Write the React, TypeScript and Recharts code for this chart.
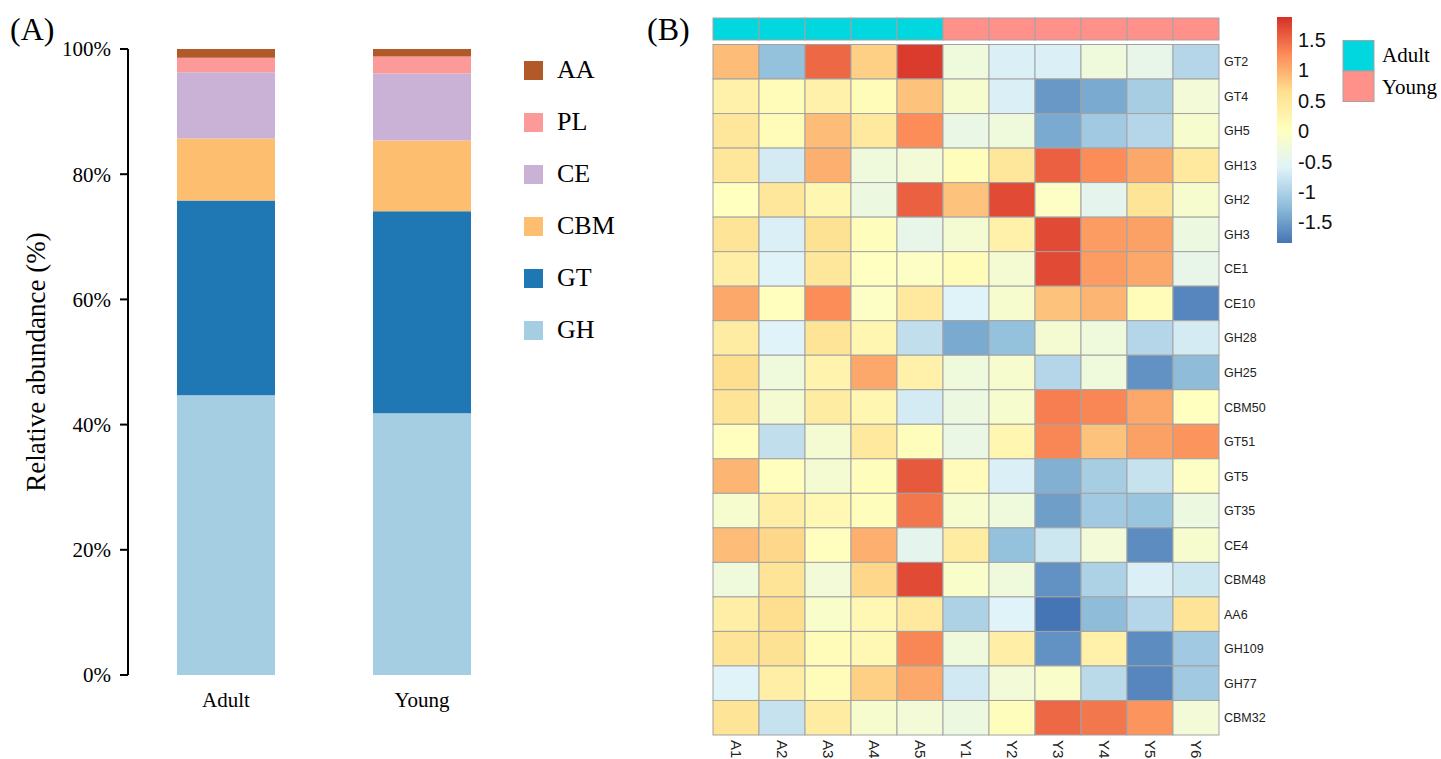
import React from 'react';
import { BarChart, Bar, XAxis, YAxis, Legend, ScatterChart, Scatter } from 'recharts';

// ---- panel A: relative abundance of CAZy classes ----
const groups = ['Adult', 'Young'];
const familyNames = ['GH', 'GT', 'CBM', 'CE', 'PL', 'AA'];
const familyColors = ['#A6CEE3', '#1F78B4', '#FDBF6F', '#CAB2D6', '#FB9A99', '#B15928'];
const ghShare = [44.7, 41.8];
const gtShare = [31.1, 32.3];
const cbmShare = [9.9, 11.3];
const ceShare = [10.6, 10.7];
const plShare = [2.3, 2.7];
const aaShare = [1.4, 1.2];
const percentTicks = [0, 20, 40, 60, 80, 100];

// ---- panel B: row-scaled heatmap ----
const sampleNames = ['A1', 'A2', 'A3', 'A4', 'A5', 'Y1', 'Y2', 'Y3', 'Y4', 'Y5', 'Y6'];
const sampleGroups = ['Adult', 'Adult', 'Adult', 'Adult', 'Adult', 'Young', 'Young', 'Young', 'Young', 'Young', 'Young'];
const geneFamilies = [
  'GT2', 'GT4', 'GH5', 'GH13', 'GH2', 'GH3', 'CE1', 'CE10', 'GH28', 'GH25',
  'CBM50', 'GT51', 'GT5', 'GT35', 'CE4', 'CBM48', 'AA6', 'GH109', 'GH77', 'CBM32',
];
const zScores = [
  [0.9, -1.2, 1.5, 0.75, 1.8, -0.3, -0.65, -0.65, -0.3, -0.45, -0.95],
  [0.3, 0.1, 0.3, 0.1, 0.85, -0.15, -0.65, -1.55, -1.4, -1.05, -0.25],
  [0.5, 0.1, 0.9, 0.45, 1.25, -0.4, -0.3, -1.4, -1.1, -0.95, -0.15],
  [0.5, -0.7, 1.0, -0.3, -0.25, 0.05, 0.5, 1.55, 1.25, 1.05, 0.45],
  [0.02, 0.5, 0.2, -0.35, 1.55, 0.85, 1.7, -0.05, -0.5, 0.55, -0.15],
  [0.55, -0.65, 0.6, 0.05, -0.45, -0.2, 0.3, 1.7, 1.15, 1.1, -0.35],
  [0.35, -0.6, 0.5, 0.0, -0.05, 0.08, -0.2, 1.7, 1.15, 1.05, -0.45],
  [1.05, 0.03, 1.25, -0.05, 0.45, -0.6, -0.15, 0.85, 0.95, 0.1, -1.7],
  [0.4, -0.6, 0.55, 0.2, -0.85, -1.4, -1.2, -0.2, -0.3, -0.95, -0.7],
  [0.65, -0.3, 0.25, 1.05, 0.3, -0.3, -0.15, -0.95, -0.3, -1.6, -1.25],
  [0.55, -0.2, 0.4, 0.2, -0.7, -0.35, -0.15, 1.35, 1.3, 1.05, 0.02],
  [0.03, -0.85, -0.2, 0.45, 0.05, -0.4, 0.2, 1.3, 0.85, 1.1, 1.2],
  [0.95, 0.03, -0.2, 0.05, 1.6, 0.07, -0.65, -1.35, -1.05, -0.8, -0.05],
  [-0.15, 0.35, 0.15, 0.05, 1.4, -0.15, -0.3, -1.5, -1.1, -1.15, -0.35],
  [0.9, 0.7, 0.03, 1.0, -0.5, 0.4, -1.2, -0.75, -0.25, -1.65, -0.15],
  [-0.3, 0.55, -0.25, 0.7, 1.7, -0.1, -0.3, -1.6, -1.0, -0.65, -0.75],
  [0.35, 0.65, -0.1, 0.15, 0.45, -1.0, -0.6, -1.85, -1.25, -0.95, 0.55],
  [0.55, 0.6, 0.1, 0.15, 1.3, -0.3, 0.35, -1.6, 0.3, -1.65, -1.1],
  [-0.6, 0.35, 0.1, 0.75, 1.05, -0.72, -0.25, -0.1, -0.9, -1.7, -1.1],
  [0.55, -0.8, 0.4, -0.15, -0.25, -0.35, 0.05, 1.5, 1.4, 1.2, -0.25],
];
const scaleTicks = [1.5, 1, 0.5, 0, -0.5, -1, -1.5];
const groupNames = ['Adult', 'Young'];
const groupColors = ['#00D7DF', '#FF918A'];

const SCALE_MIN = -1.84;
const SCALE_MAX = 1.87;
const PALETTE = ['#4575B4', '#91BFDB', '#E0F3F8', '#FFFFBF', '#FEE090', '#FC8D59', '#D73027'];

const SERIF = '"Liberation Serif", "Times New Roman", serif';
const SANS = '"Liberation Sans", Arial, sans-serif';

// heatmap geometry
const HM_LEFT = 73; // inside the panel B svg
const HM_TOP = 44.5;
const HM_W = 506;
const HM_H = 690.5;
const CELL_W = HM_W / sampleNames.length;
const CELL_H = HM_H / geneFamilies.length;
const ANN_TOP = 18;
const ANN_H = 22;

function hexToRgb(h: string) {
  const n = parseInt(h.slice(1), 16);
  return [(n >> 16) & 255, (n >> 8) & 255, n & 255];
}

function zColor(v: number) {
  const t = Math.min(1, Math.max(0, (v - SCALE_MIN) / (SCALE_MAX - SCALE_MIN)));
  const pos = t * (PALETTE.length - 1);
  const i = Math.min(PALETTE.length - 2, Math.floor(pos));
  const f = pos - i;
  const a = hexToRgb(PALETTE[i]);
  const b = hexToRgb(PALETTE[i + 1]);
  const c = a.map((x, k) => Math.round(x + (b[k] - x) * f));
  return `rgb(${c[0]},${c[1]},${c[2]})`;
}

const stackData = groups.map((g, i) => ({
  group: g,
  GH: ghShare[i],
  GT: gtShare[i],
  CBM: cbmShare[i],
  CE: ceShare[i],
  PL: plShare[i],
  AA: aaShare[i],
}));

const heatPoints = zScores.flatMap((row, r) =>
  row.map((z, c) => ({ x: c, y: r, z, sample: sampleNames[c], family: geneFamilies[r] }))
);

const annotationPoints = sampleGroups.map((g, c) => ({ x: c, y: 0, group: g }));

const HeatCell = (props: any) => {
  const { cx, cy, payload } = props;
  return (
    <rect
      x={cx - CELL_W / 2}
      y={cy - CELL_H / 2}
      width={CELL_W}
      height={CELL_H}
      fill={zColor(payload.z)}
      stroke="#A3A3A3"
      strokeWidth={1}
    />
  );
};

const AnnotationCell = (props: any) => {
  const { cx, cy, payload } = props;
  return (
    <rect
      x={cx - CELL_W / 2}
      y={cy - ANN_H / 2}
      width={CELL_W}
      height={ANN_H}
      fill={groupColors[groupNames.indexOf(payload.group)]}
      stroke="#A3A3A3"
      strokeWidth={1}
    />
  );
};

const SampleTick = (props: any) => {
  const { x, y, payload } = props;
  return (
    <text
      x={x}
      y={y}
      dy="0.36em"
      transform={`rotate(90 ${x} ${y})`}
      textAnchor="start"
      fontSize={15}
      fill="#222"
      fontFamily={SANS}
    >
      {sampleNames[payload.value]}
    </text>
  );
};

const FamilyTick = (props: any) => {
  const { x, y, payload } = props;
  return (
    <text x={x} y={y} dy="0.36em" textAnchor="start" fontSize={12.5} fill="#222" fontFamily={SANS}>
      {geneFamilies[payload.value]}
    </text>
  );
};

const GroupTick = (props: any) => {
  const { x, y, payload } = props;
  return (
    <text x={x} y={y} dy="0.71em" textAnchor="middle" fontSize={21} fill="#000" fontFamily={SERIF}>
      {payload.value}
    </text>
  );
};

// legend lists the classes top-down in the reverse of the stacking order
const ClassLegend = () => {
  const order = familyNames.map((n, i) => ({ value: n, color: familyColors[i] })).reverse();
  return (
    <div style={{ fontFamily: SERIF }}>
      {order.map((it) => (
        <div key={it.value} style={{ display: 'flex', alignItems: 'center', height: 52 }}>
          <span style={{ width: 19, height: 19, background: it.color, display: 'inline-block' }} />
          <span style={{ marginLeft: 14, fontSize: 26, color: '#000', lineHeight: '26px' }}>{it.value}</span>
        </div>
      ))}
    </div>
  );
};

function scaleY(v: number) {
  const top = 17;
  const h = 226;
  return top + ((SCALE_MAX - v) / (SCALE_MAX - SCALE_MIN)) * h;
}

export default function App() {
  const colTicks = sampleNames.map((_, i) => i);
  const rowTicks = geneFamilies.map((_, i) => i);
  return (
    <div style={{ position: 'absolute', left: 0, top: 0, width: 1441, height: 759, background: '#fff' }}>
      {/* panel A */}
      <div style={{ position: 'absolute', left: 0, top: 0, fontFamily: SERIF }}>
        <BarChart
          width={640}
          height={759}
          data={stackData}
          margin={{ top: 49, right: 120, bottom: 44, left: 48 }}
        >
          <XAxis
            dataKey="group"
            axisLine={false}
            tickLine={false}
            tickSize={0}
            tickMargin={17}
            height={40}
            tick={<GroupTick />}
          />
          <YAxis
            type="number"
            domain={[0, 100]}
            ticks={percentTicks}
            interval={0}
            width={80}
            tickSize={8}
            tickMargin={9}
            tickFormatter={(v: number) => `${v}%`}
            axisLine={{ stroke: '#000', strokeWidth: 2 }}
            tickLine={{ stroke: '#000', strokeWidth: 2 }}
            tick={{ fill: '#000', fontSize: 21, fontFamily: SERIF }}
            label={{
              value: 'Relative abundance (%)',
              angle: -90,
              position: 'insideLeft',
              offset: -13,
              style: { textAnchor: 'middle', fontSize: 27, fill: '#000', fontFamily: SERIF },
            }}
          />
          <Legend
            layout="vertical"
            align="center"
            verticalAlign="middle"
            content={<ClassLegend />}
            wrapperStyle={{ position: 'absolute', left: 524, top: 44, width: 110 }}
          />
          {familyNames.map((name, i) => (
            <Bar
              key={name}
              dataKey={name}
              stackId="cazy"
              fill={familyColors[i]}
              barSize={98}
              isAnimationActive={false}
            />
          ))}
        </BarChart>
        <div style={{ position: 'absolute', left: 10, top: 13, fontSize: 32, lineHeight: '32px' }}>(A)</div>
      </div>

      {/* panel B */}
      <div style={{ position: 'absolute', left: 640, top: 0, width: 801, height: 759 }}>
        <div style={{ position: 'absolute', left: 0, top: 0 }}>
          <ScatterChart
            width={801}
            height={60}
            margin={{ top: ANN_TOP, right: 801 - HM_LEFT - HM_W, bottom: 60 - ANN_TOP - ANN_H, left: HM_LEFT }}
          >
            <XAxis type="number" dataKey="x" domain={[-0.5, sampleNames.length - 0.5]} hide />
            <YAxis type="number" dataKey="y" domain={[-0.5, 0.5]} hide />
            <Scatter data={annotationPoints} shape={<AnnotationCell />} isAnimationActive={false} />
          </ScatterChart>
        </div>
        <div style={{ position: 'absolute', left: 0, top: 0 }}>
          <ScatterChart
            width={801}
            height={759}
            margin={{ top: HM_TOP, right: 801 - HM_LEFT - HM_W - 60, bottom: 759 - HM_TOP - HM_H - 24, left: HM_LEFT }}
          >
            <XAxis
              type="number"
              dataKey="x"
              domain={[-0.5, sampleNames.length - 0.5]}
              ticks={colTicks}
              interval={0}
              axisLine={false}
              tickLine={false}
              tickSize={0}
              tickMargin={5}
              height={24}
              tick={<SampleTick />}
            />
            <YAxis
              type="number"
              dataKey="y"
              orientation="right"
              reversed
              domain={[-0.5, geneFamilies.length - 0.5]}
              ticks={rowTicks}
              interval={0}
              axisLine={false}
              tickLine={false}
              tickSize={0}
              tickMargin={5}
              width={60}
              tick={<FamilyTick />}
            />
            <Scatter data={heatPoints} shape={<HeatCell />} isAnimationActive={false} />
          </ScatterChart>
        </div>
        <div style={{ position: 'absolute', left: 7, top: 13, fontSize: 32, lineHeight: '32px', fontFamily: SERIF }}>
          (B)
        </div>
      </div>

      {/* colour key */}
      <svg style={{ position: 'absolute', left: 1270, top: 0 }} width={171} height={260}>
        <defs>
          <linearGradient id="zkey" x1="0" y1="0" x2="0" y2="1">
            {PALETTE.slice().reverse().map((c, i) => (
              <stop key={c} offset={i / (PALETTE.length - 1)} stopColor={c} />
            ))}
          </linearGradient>
        </defs>
        <rect x={7} y={17} width={15} height={226} fill="url(#zkey)" />
        {scaleTicks.map((t) => (
          <text key={t} x={28} y={scaleY(t)} dy="0.36em" fontSize={20} fontFamily={SANS} fill="#111">
            {t}
          </text>
        ))}
        {groupNames.map((g, i) => (
          <g key={g}>
            <rect x={73} y={40.5 + i * 30.5} width={31} height={30.5} fill={groupColors[i]} stroke="#A3A3A3" />
            <text x={112} y={62 + i * 32} fontSize={21} fontFamily={SERIF} fill="#000">
              {g}
            </text>
          </g>
        ))}
      </svg>
    </div>
  );
}
